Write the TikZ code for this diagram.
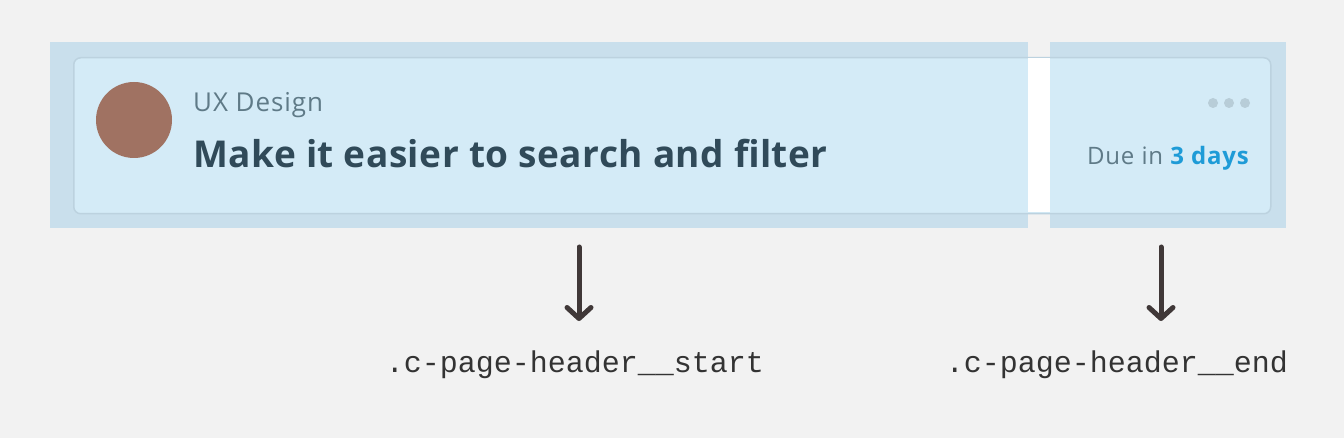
\documentclass[tikz,border=0pt]{standalone}
\usepackage{fontspec}
\setmainfont{Open Sans}
\setmonofont{Liberation Mono}
\usetikzlibrary{arrows.meta}
\definecolor{bgc}{HTML}{F2F2F2}
\definecolor{hl}{HTML}{C9DFEC}
\definecolor{cardc}{HTML}{D4EBF7}
\definecolor{cardb}{HTML}{BCD2DF}
\definecolor{avat}{HTML}{A07262}
\definecolor{subt}{HTML}{5F7A87}
\definecolor{titc}{HTML}{304A59}
\definecolor{duec}{HTML}{1E9BD7}
\definecolor{dotc}{HTML}{B8CDD8}
\definecolor{arrc}{HTML}{403838}
\definecolor{labc}{HTML}{333333}
\tikzset{
  pointer/.style={draw=arrc, line width=5pt, line cap=round, -{Straight Barb[length=11pt,width=24pt,line cap=round,line join=round]}},
  codelabel/.style={font=\ttfamily\fontsize{30}{32}\selectfont, text=labc, inner sep=0pt, anchor=base},
  dotnode/.style={circle, fill=dotc, minimum size=10pt, inner sep=0pt},
}
\begin{document}
\begin{tikzpicture}[x=1pt,y=-1pt]
\useasboundingbox (0,0) rectangle (1344,438);
\fill[bgc] (0,0) rectangle (1344,438);
% highlight regions
\fill[hl] (50,42) rectangle (1028,228);
\fill[hl] (1050,42) rectangle (1286,228);
% card
\node[draw=cardb, line width=1.5pt, fill=cardc, rounded corners=7pt, minimum width=1197pt, minimum height=156pt, anchor=north west, inner sep=0pt] (card) at (73,57) {};
\fill[white] (1028,58) rectangle (1050,212);
% avatar
\node[circle, fill=avat, minimum size=76pt, inner sep=0pt] (avatar) at (134,120) {};
% texts
\node[anchor=base west, inner sep=0pt, text=subt, font=\fontsize{26}{30}\selectfont\addfontfeature{LetterSpace=3.5}] (cat) at (193,112) {UX Design};
\node[anchor=base west, inner sep=0pt, text=titc, font=\bfseries\fontsize{37}{42}\selectfont\addfontfeature{LetterSpace=1.3}] (title) at (193,168) {Make it easier to search and filter};
\node[anchor=base east, inner sep=0pt, text=subt, font=\fontsize{24}{28}\selectfont\addfontfeature{LetterSpace=3.5}] (due) at (1249,165) {Due in \textcolor{duec}{\bfseries 3 days}};
% dots
\node[dotnode] (d1) at (1213,103) {};
\node[dotnode] (d2) at (1229,103) {};
\node[dotnode] (d3) at (1245,103) {};
% arrows
\coordinate (a1s) at (579,247);
\coordinate (a1e) at (579,321);
\coordinate (a2s) at (1161,247);
\coordinate (a2e) at (1161,321);
\draw[pointer] (a1s) -- (a1e);
\draw[pointer] (a2s) -- (a2e);
% labels
\node[codelabel] (lstart) at (575,372) {.c-page-header\_\_start};
\node[codelabel] (lend) at (1117,372) {.c-page-header\_\_end};
\end{tikzpicture}
\end{document}
